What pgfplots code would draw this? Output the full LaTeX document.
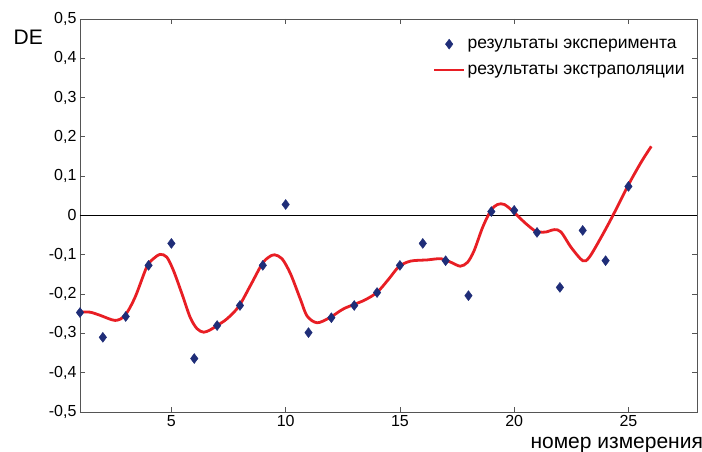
\documentclass[border=0pt]{standalone}
\usepackage{pgfplots}
\pgfplotsset{compat=1.18}
\usepackage{fontspec}
\setmainfont{Liberation Sans}
\definecolor{navy}{RGB}{31,45,120}
\definecolor{cred}{RGB}{232,30,36}
\definecolor{frame}{RGB}{85,85,85}
\begin{document}
\begin{tikzpicture}[x=1pt,y=1pt]
\useasboundingbox (0,0) rectangle (702,452);
\begin{axis}[
  at={(80pt,40pt)}, anchor=south west,
  scale only axis, width=617pt, height=393pt,
  xmin=1, xmax=28, ymin=-0.5, ymax=0.5,
  xtick={5,10,15,20,25},
  ytick={-0.5,-0.4,-0.3,-0.2,-0.1,0,0.1,0.2,0.3,0.4,0.5},
  tick align=inside, major tick length=5pt,
  axis line style={frame, line width=0.9pt},
  every tick/.style={frame, line width=0.8pt},
  ticklabel style={font=\fontsize{16}{19}\selectfont, text=black},
  /pgf/number format/assume math mode=true,
  /pgf/number format/use comma,
  yticklabel style={/pgf/number format/fixed, /pgf/number format/precision=1},
  xlabel={номер измерения},
  xlabel style={at={(axis description cs:1.01,0)}, anchor=north east, inner sep=0pt, yshift=-25pt, font=\fontsize{21}{24}\selectfont},
  ylabel={DE},
  ylabel style={rotate=-90, at={(axis description cs:0,1)}, anchor=north east, inner sep=0pt, xshift=-37pt, yshift=-11pt, font=\fontsize{21}{24}\selectfont},
  legend style={draw=none, fill=none, at={(rel axis cs:0.985,0.958)}, anchor=north east, font=\fontsize{17.5}{21}\selectfont, row sep=11pt, inner sep=1pt, nodes={inner sep=2pt}},
  legend cell align=left,
]
\addplot [black, line width=0.7pt, forget plot] coordinates {(1,0) (28,0)};
\addplot [only marks, mark=diamond*, mark size=5pt, mark options={fill=navy, draw=navy},
  legend image code/.code={\draw[mark=diamond*, mark size=5pt, mark options={fill=navy,draw=navy}] plot coordinates {(15pt,0pt)}; \path (0pt,0pt) (30pt,0pt);}]
coordinates {
(1,-0.247) (2,-0.310) (3,-0.257) (4,-0.127) (5,-0.071) (6,-0.364) (7,-0.280)
(8,-0.229) (9,-0.127) (10,0.028) (11,-0.298) (12,-0.260) (13,-0.229) (14,-0.196)
(15,-0.127) (16,-0.071) (17,-0.115) (18,-0.204) (19,0.010) (20,0.013) (21,-0.043)
(22,-0.183) (23,-0.038) (24,-0.115) (25,0.074)
};
\addlegendentry{результаты эксперимента}
\addplot [cred, line width=2.8pt, smooth, no marks,
  legend image code/.code={\draw[cred, line width=2.8pt] (0pt,0pt) -- (30pt,0pt);}]
coordinates {
(1,-0.246) (1.44,-0.246) (1.88,-0.254) (2.54,-0.267) (2.97,-0.254) (3.41,-0.208)
(3.92,-0.131) (4.21,-0.110) (4.51,-0.099) (4.80,-0.106) (5.09,-0.140) (5.46,-0.199)
(5.82,-0.259) (6.12,-0.288) (6.41,-0.297) (6.70,-0.291) (7.0,-0.280) (7.43,-0.263)
(7.94,-0.232) (8.46,-0.178) (8.97,-0.123) (9.26,-0.106) (9.51,-0.100) (9.84,-0.110)
(10.21,-0.148) (10.65,-0.214) (10.94,-0.256) (11.38,-0.273) (11.96,-0.259)
(12.55,-0.237) (13.43,-0.216) (14.01,-0.195) (14.52,-0.161) (14.96,-0.130)
(15.47,-0.116) (16.2,-0.113) (16.79,-0.110) (17.23,-0.119) (17.64,-0.129)
(17.96,-0.119) (18.25,-0.089) (18.62,-0.030) (18.98,0.013) (19.27,0.028)
(19.57,0.028) (20.0,0.008) (20.44,-0.017) (20.88,-0.038) (21.1,-0.042)
(21.39,-0.042) (21.76,-0.036) (22.05,-0.042) (22.49,-0.081) (23.0,-0.115)
(23.29,-0.106) (23.81,-0.055) (24.32,0.0) (24.98,0.076) (25.56,0.136) (26.0,0.176)
};
\addlegendentry{результаты экстраполяции}
\end{axis}
\end{tikzpicture}
\end{document}
